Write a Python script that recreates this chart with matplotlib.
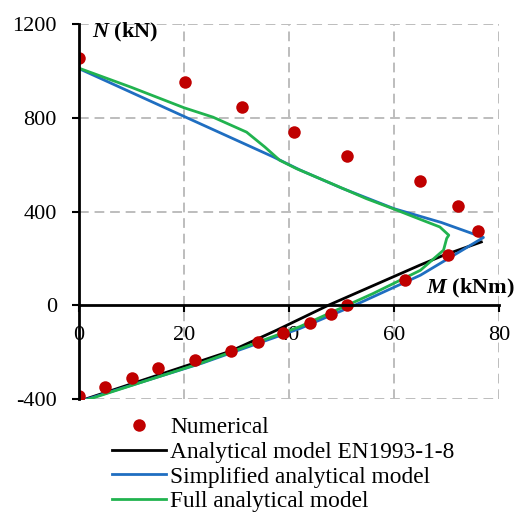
#!/usr/bin/env python3

import matplotlib
matplotlib.use('Agg')
from matplotlib import pyplot as plt

plt.rcParams['font.family'] = 'Liberation Serif'
plt.rcParams['mathtext.fontset'] = 'custom'
plt.rcParams['mathtext.it'] = 'Liberation Serif:italic:bold'
plt.rcParams['mathtext.rm'] = 'Liberation Serif:bold'
plt.rcParams['axes.unicode_minus'] = False

# numerical results (M in kNm, N in kN)
num_m = [0, 20.2, 31.1, 41, 51.1, 65, 72.1, 76, 70.3, 62, 51, 48, 44, 38.9, 34, 29, 22, 15, 10, 5, 0]
num_n = [1057, 953, 846, 739, 636, 529, 424, 316, 214, 107, 0, -38, -77, -120, -158, -196, -235, -269, -311, -350, -389]

# analytical model EN1993-1-8
en_m = [0, 29, 37.6, 47.5, 64.9, 69.4, 76.6]
en_n = [-410, -195, -107, 0, 171, 213, 270]

# simplified analytical model
simp_m = [0, 20, 37, 42, 50, 60, 69, 77, 65, 52.5, 42, 23.5, 0]
simp_n = [1010, 806, 633, 578, 500, 412, 353, 289, 128, 0, -100, -247, -412]

# full analytical model
full_m = [0, 10, 20, 25.5, 31.9, 35.4, 38.2, 41.4, 48, 54.7, 59.8, 64, 68.7, 70.4,
          70, 69.4, 65, 56, 42, 23.5, 1.4, 0]
full_n = [1012, 930, 843, 803, 739, 675, 619, 583, 520, 455, 412, 375, 334, 299,
          285, 235, 149, 50, -92, -245, -405, -410]

x_ticks = [0, 20, 40, 60, 80]
y_ticks = [-400, 0, 400, 800, 1200]


def main():
	fig = plt.figure(figsize=(5.2, 5.14), dpi=100)
	ax = fig.add_axes([0.152, 0.224, 0.808, 0.729])

	ax.plot(en_m, en_n, color='black', lw=2, zorder=3, label='Analytical model EN1993-1-8')
	ax.plot(simp_m, simp_n, color='#1F6EC1', lw=2, zorder=4, label='Simplified analytical model')
	ax.plot(full_m, full_n, color='#21B34F', lw=2, zorder=5, label='Full analytical model')
	ax.plot(num_m, num_n, 'o', color='#C00000', ms=9, mec='none', zorder=6, label='Numerical')

	ax.set_xlim(0, 80)
	ax.set_ylim(-400, 1200)
	ax.set_xticks(x_ticks)
	ax.set_yticks(y_ticks)

	# dashed grey grid, drawn by hand so the 0 lines stay the solid axes
	for v in x_ticks[1:]:
		ax.axvline(v, color='#BDBDBD', lw=1.4, ls=(0, (5, 3)), zorder=1)
	for v in [-400, 400, 800, 1200]:
		ax.axhline(v, color='#BDBDBD', lw=1.4, ls=(0, (5, 3)), zorder=1)

	ax.spines['top'].set_visible(False)
	ax.spines['right'].set_visible(False)
	ax.spines['bottom'].set_position(('data', 0))
	ax.spines['left'].set_linewidth(2)
	ax.spines['bottom'].set_linewidth(2)
	ax.spines['left'].set_zorder(7)
	ax.spines['bottom'].set_zorder(7)

	ax.tick_params(axis='y', direction='out', length=5, width=1.5, labelsize=16, pad=11)
	ax.tick_params(axis='x', direction='out', length=5, width=1.5, labelsize=16, pad=10)

	ax.text(2.5, 1165, r'$N$ (kN)', fontsize=16, fontweight='bold', va='center', ha='left')
	ax.text(66, 72, r'$M$ (kNm)', fontsize=16, fontweight='bold', va='center', ha='left')

	h, l = ax.get_legend_handles_labels()
	order = [3, 0, 1, 2]
	fig.legend([h[i] for i in order], [l[i] for i in order],
		loc='upper left', bbox_to_anchor=(112 / 520, 1 - 417 / 514),
		frameon=False, fontsize=16.8, borderpad=0, borderaxespad=0,
		handlelength=2.3, handletextpad=0.2, labelspacing=0.14)

	fig.savefig('out.png', dpi=100)


if __name__ == '__main__':
	main()
